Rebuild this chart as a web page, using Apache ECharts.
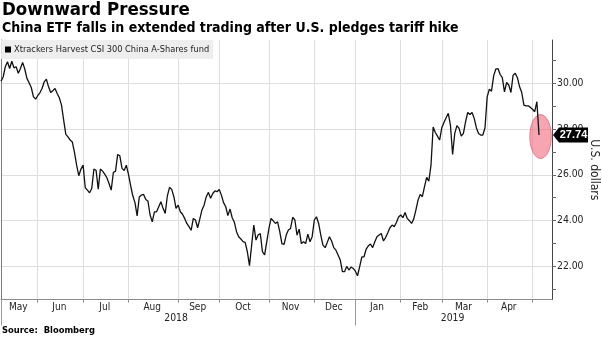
<!DOCTYPE html>
<html>
<head>
<meta charset="utf-8">
<script src="https://cdn.jsdelivr.net/npm/echarts@6/dist/echarts.min.js"></script>
<style>
  html, body { margin: 0; padding: 0; background: #fff; }
  #chart { width: 602px; height: 337px; }
</style>
</head>
<body>
<div id="chart"></div>
<script>
// Trading calendar: weekdays between these dates, minus market holidays.
const firstDay = '2018-05-08';
const lastDay = '2019-05-14';
const marketHolidays = [
  '2018-05-28', '2018-07-04', '2018-09-03', '2018-11-22', '2018-12-05',
  '2018-12-25', '2019-01-01', '2019-01-21', '2019-02-18', '2019-04-19'
];

// Xtrackers Harvest CSI 300 China A-Shares fund, price in U.S. dollars per trading day.
// The final value is the extended-trading quote.
const closePrices = [
  30.10, 30.28, 30.73, 30.95, 30.65, 30.97, 30.68, 30.73, 30.44, 30.65,
  30.92, 30.63, 30.22, 30.03, 29.82, 29.42, 29.31, 29.46, 29.59, 29.78,
  30.07, 30.19, 29.85, 29.60, 29.68, 29.78, 29.56, 29.37, 29.05, 28.39,
  27.77, 27.66, 27.52, 27.44, 26.98, 26.42, 25.96, 26.25, 26.42, 25.43,
  25.33, 25.21, 25.40, 26.25, 26.20, 25.37, 26.25, 26.16, 26.03, 25.87,
  25.62, 25.33, 26.10, 26.16, 26.89, 26.83, 26.28, 26.19, 26.42, 26.02,
  25.52, 25.08, 24.78, 24.20, 25.03, 25.11, 25.14, 24.92, 24.85, 24.24,
  23.94, 24.38, 24.38, 24.60, 24.82, 24.53, 24.31, 25.08, 25.45, 25.36,
  25.04, 24.53, 24.67, 24.38, 24.27, 24.09, 23.87, 23.73, 23.57, 24.09,
  24.02, 23.68, 24.06, 24.46, 24.67, 25.04, 25.23, 24.97, 25.18, 25.29,
  25.26, 25.36, 25.11, 24.78, 24.60, 24.21, 24.50, 24.12, 23.92, 23.51,
  23.29, 23.19, 23.07, 23.04, 22.63, 22.02, 22.92, 23.80, 23.14, 23.36,
  23.43, 22.63, 22.49, 23.07, 23.65, 24.09, 23.98, 23.87, 23.94, 23.51,
  22.99, 22.95, 23.36, 23.58, 23.65, 24.14, 24.02, 23.36, 23.62, 22.99,
  23.07, 22.99, 23.40, 23.07, 23.29, 24.02, 24.16, 23.87, 23.36, 22.92,
  22.81, 23.04, 23.29, 23.10, 22.81, 22.70, 22.49, 22.27, 21.76, 21.76,
  21.99, 21.83, 21.96, 21.90, 21.78, 21.58, 21.98, 22.41, 22.41, 22.75,
  22.89, 22.97, 22.81, 23.07, 23.29, 23.36, 23.43, 23.10, 23.25, 23.46,
  23.68, 23.80, 23.73, 23.91, 24.15, 24.24, 24.12, 24.35, 24.09, 23.99,
  23.87, 24.06, 24.45, 24.89, 25.14, 25.04, 25.48, 25.89, 25.72, 26.42,
  28.09, 27.85, 27.69, 27.52, 28.06, 28.29, 28.50, 28.69, 28.17, 26.89,
  27.81, 28.15, 28.03, 27.69, 27.81, 28.32, 28.73, 28.64, 28.73, 28.47,
  28.06, 27.81, 27.74, 27.74, 28.06, 29.41, 29.75, 29.66, 30.33, 30.63,
  30.65, 30.39, 30.25, 29.63, 30.04, 29.93, 29.60, 30.36, 30.44, 30.25,
  29.85, 29.60, 29.05, 29.02, 29.02, 28.95, 28.87, 28.76, 29.20, 27.74
];

const yMin = 20.54;
const yMax = 31.9;
const yTickValues = [21, 22, 23, 24, 25, 26, 27, 28, 29, 30, 31];
const yLabelValues = [22, 24, 26, 28, 30];
const monthNames = ['Jan', 'Feb', 'Mar', 'Apr', 'May', 'Jun', 'Jul', 'Aug', 'Sep', 'Oct', 'Nov', 'Dec'];

const FONT = '"DejaVu Sans Condensed", "Liberation Sans", Arial, sans-serif';
const GRID_COLOR = '#dedede';

function tradingDays(from, to, holidays) {
  const out = [];
  const d = new Date(from + 'T00:00:00Z');
  const end = new Date(to + 'T00:00:00Z');
  while (d <= end) {
    const wd = d.getUTCDay();
    const s = d.toISOString().slice(0, 10);
    if (wd !== 0 && wd !== 6 && holidays.indexOf(s) < 0) out.push(s);
    d.setUTCDate(d.getUTCDate() + 1);
  }
  return out;
}

const dates = tradingDays(firstDay, lastDay, marketHolidays);

// Month and year boundaries / label positions along the trading-day axis.
const monthStart = new Set();
const yearStart = new Set([0]);
const monthGroups = [];
const yearGroups = [];
dates.forEach((d, i) => {
  const m = d.slice(0, 7), y = d.slice(0, 4);
  if (!monthGroups.length || monthGroups[monthGroups.length - 1].key !== m) {
    monthGroups.push({ key: m, from: i, to: i });
    if (i > 0) monthStart.add(i);
  } else monthGroups[monthGroups.length - 1].to = i;
  if (!yearGroups.length || yearGroups[yearGroups.length - 1].key !== y) {
    yearGroups.push({ key: y, from: i, to: i });
    if (i > 0) yearStart.add(i);
  } else yearGroups[yearGroups.length - 1].to = i;
});
const monthLabelAt = new Set(
  monthGroups.filter(g => g.to - g.from + 1 >= 15).map(g => Math.round((g.from + g.to) / 2))
);
const yearLabelAt = new Set(yearGroups.map(g => Math.floor((g.from + g.to) / 2)));

const chart = echarts.init(document.getElementById('chart'), null, { renderer: 'canvas' });

const option = {
  animation: false,
  backgroundColor: '#fff',
  textStyle: { fontFamily: FONT },
  title: [
    { text: 'Downward Pressure', left: 2, top: 1, padding: 0,
      textStyle: { fontFamily: FONT, fontSize: 18.5, fontWeight: 'bold', color: '#000' } },
    { text: 'China ETF falls in extended trading after U.S. pledges tariff hike', left: 2, top: 21, padding: 0,
      textStyle: { fontFamily: FONT, fontSize: 14, fontWeight: 'bold', color: '#000' } },
    { text: 'Source:  Bloomberg', left: 2, top: 326, padding: 0,
      textStyle: { fontFamily: FONT, fontSize: 9.3, fontWeight: 'bold', color: '#000' } }
  ],
  legend: {
    left: 1, top: 40,
    padding: [5, 4, 5, 4],
    backgroundColor: 'rgba(236,236,236,0.9)',
    icon: 'rect', itemWidth: 6, itemHeight: 6, itemGap: 4,
    textStyle: { fontFamily: FONT, fontSize: 9.2, color: '#222', padding: [0, 0, 0, -2] },
    data: ['Xtrackers Harvest CSI 300 China A-Shares fund']
  },
  grid: { left: 1, right: 50, top: 40, bottom: 37.5, containLabel: false, outerBoundsMode: 'none' },
  xAxis: [
    {
      type: 'category', data: dates, boundaryGap: false,
      axisLine: { show: true, lineStyle: { color: '#8a8a8a', width: 1 } },
      axisTick: { show: true, interval: (i) => monthStart.has(i), length: 3, lineStyle: { color: '#8a8a8a' } },
      axisLabel: {
        interval: (i) => monthLabelAt.has(i),
        formatter: (v) => monthNames[+v.slice(5, 7) - 1],
        margin: 3, fontFamily: FONT, fontSize: 10, color: '#222'
      },
      splitLine: { show: true, interval: (i) => monthStart.has(i), lineStyle: { color: GRID_COLOR, width: 1 } }
    },
    {
      type: 'category', data: dates, boundaryGap: false, position: 'bottom', offset: 0,
      axisLine: { show: false },
      axisTick: { show: true, interval: (i) => yearStart.has(i), length: 26, lineStyle: { color: '#9a9a9a' } },
      axisLabel: {
        interval: (i) => yearLabelAt.has(i),
        formatter: (v) => v.slice(0, 4),
        margin: 14, fontFamily: FONT, fontSize: 10.3, color: '#222'
      },
      splitLine: { show: false }
    }
  ],
  yAxis: [
    {
      type: 'value', position: 'right', min: yMin, max: yMax,
      axisLine: { show: true, lineStyle: { color: '#444', width: 1 } },
      axisTick: { show: true, customValues: yTickValues, length: 4, lineStyle: { color: '#666' } },
      axisLabel: {
        customValues: yLabelValues, formatter: (v) => v.toFixed(2),
        margin: 5, fontFamily: FONT, fontSize: 10.3, color: '#222'
      },
      splitLine: { show: false },
      name: 'U.S. dollars', nameLocation: 'middle', nameRotate: -90, nameGap: 36,
      nameMoveOverlap: false,
      nameTextStyle: { fontFamily: FONT, fontSize: 12, color: '#222' }
    },
    {
      type: 'value', position: 'right', min: yMin, max: yMax,
      axisLine: { show: false },
      axisTick: { show: false, customValues: yLabelValues },
      axisLabel: { show: false, customValues: yLabelValues },
      splitLine: { show: true, lineStyle: { color: GRID_COLOR, width: 1 } }
    },
    {
      type: 'value', position: 'left', min: yMin, max: yMax,
      axisLine: { show: true, lineStyle: { color: '#7a7a7a', width: 1 } },
      axisTick: { show: false }, axisLabel: { show: false }, splitLine: { show: false }
    }
  ],
  series: [
    {
      name: 'Xtrackers Harvest CSI 300 China A-Shares fund',
      type: 'line', xAxisIndex: 0, yAxisIndex: 0,
      data: closePrices,
      showSymbol: false, symbol: 'none',
      lineStyle: { color: '#111', width: 1.3 },
      itemStyle: { color: '#000' },
      z: 3
    }
  ]
};

chart.setOption(option);

// Highlight the latest quote and tag its value on the price axis.
const lastIdx = closePrices.length - 1;
const lastVal = closePrices[lastIdx];
const pt = chart.convertToPixel({ seriesIndex: 0 }, [lastIdx, lastVal]);
const axisX = chart.convertToPixel({ xAxisIndex: 0 }, dates.length - 1);
const tagW = 35, tagH = 15, arrow = 6;

chart.setOption({
  graphic: [
    {
      type: 'ellipse', z: 2,
      shape: { cx: pt[0] + 1.5, cy: pt[1] + 1.5, rx: 10.8, ry: 22 },
      style: { fill: 'rgba(240,105,125,0.6)', stroke: 'rgba(225,80,100,0.8)', lineWidth: 0.8 }
    },
    {
      type: 'polygon', z: 10,
      shape: { points: [
        [axisX + 1, pt[1]], [axisX + 1 + arrow, pt[1] - tagH / 2], [axisX + 1 + tagW, pt[1] - tagH / 2],
        [axisX + 1 + tagW, pt[1] + tagH / 2], [axisX + 1 + arrow, pt[1] + tagH / 2]
      ] },
      style: { fill: '#000' }
    },
    {
      type: 'text', z: 11,
      x: axisX + 1 + arrow + (tagW - arrow) / 2, y: pt[1],
      style: {
        text: lastVal.toFixed(2), fill: '#fff', align: 'center', verticalAlign: 'middle',
        font: 'bold 11px "Liberation Sans", Arial, sans-serif'
      }
    }
  ]
});
</script>
</body>
</html>
